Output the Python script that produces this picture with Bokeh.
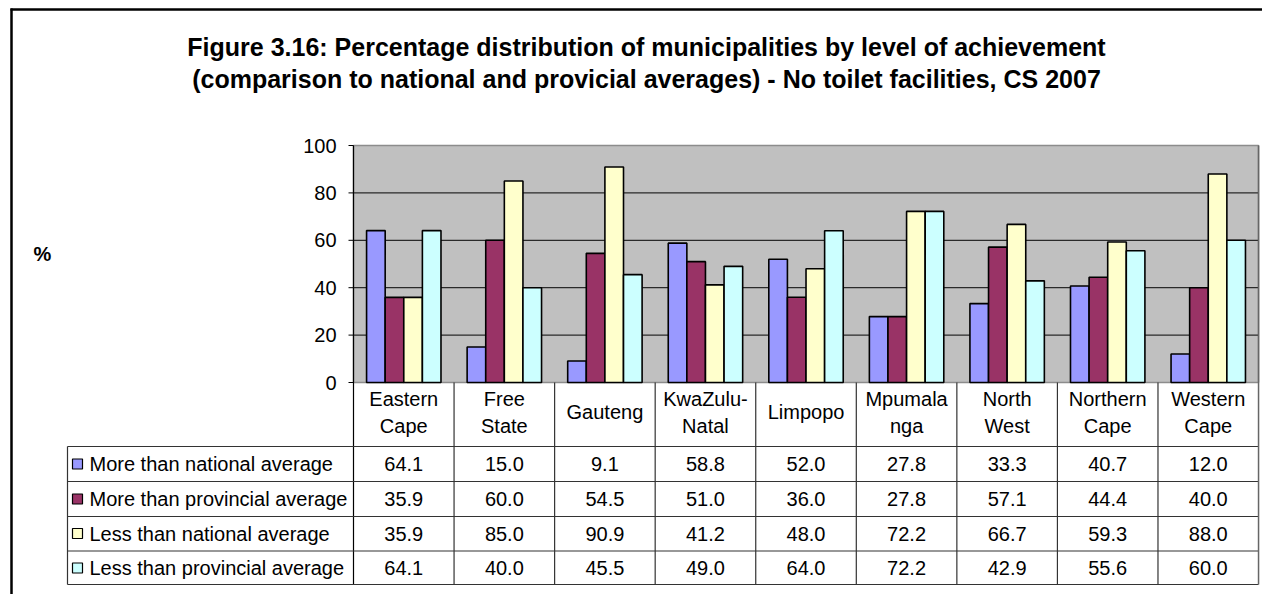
from bokeh.plotting import figure
from bokeh.models import Range1d, ColumnDataSource
from bokeh.core.properties import value
from bokeh.embed import file_html
from bokeh.resources import INLINE

# ---------------- data ----------------
categories = ["Eastern\nCape", "Free\nState", "Gauteng", "KwaZulu-\nNatal", "Limpopo",
              "Mpumala\nnga", "North\nWest", "Northern\nCape", "Western\nCape"]
series_names = ["More than national average", "More than provincial average",
                "Less than national average", "Less than provincial average"]
more_national = [64.1, 15.0, 9.1, 58.8, 52.0, 27.8, 33.3, 40.7, 12.0]
more_provincial = [35.9, 60.0, 54.5, 51.0, 36.0, 27.8, 57.1, 44.4, 40.0]
less_national = [35.9, 85.0, 90.9, 41.2, 48.0, 72.2, 66.7, 59.3, 88.0]
less_provincial = [64.1, 40.0, 45.5, 49.0, 64.0, 72.2, 42.9, 55.6, 60.0]
y_ticks = [0, 20, 40, 60, 80, 100]
title_lines = ["Figure 3.16: Percentage distribution of municipalities by level of achievement",
               "(comparison to national and provicial averages) - No toilet facilities, CS 2007"]
y_label = "%"

series = [more_national, more_provincial, less_national, less_provincial]
colors = ["#9999FF", "#993366", "#FFFFCC", "#CCFFFF"]

# ---------------- layout helpers (canvas pixel -> data coords) ----------------
X0, COLW = 353.0, 100.56
Y0, YPX = 382.0, 2.37
def X(px):
    return (px - X0) / COLW
def Y(py):
    return (Y0 - py) / YPX

FONT = value("Liberation Sans")
W, H = 1262, 594
p = figure(width=W, height=H, output_backend="svg", toolbar_location=None,
           x_range=Range1d(X(0), X(W)), y_range=Range1d(Y(H), Y(0)),
           x_axis_location=None, y_axis_location=None, min_border=0)
p.grid.visible = False
p.outline_line_color = None
p.background_fill_color = "white"
p.border_fill_color = "white"

n = len(categories)

# outer frame (top + left)
p.segment(x0=[X(10), X(11)], y0=[Y(9), Y(8)], x1=[X(W), X(11)], y1=[Y(9), Y(H)],
          line_color="black", line_width=2.5)

# title
p.text(x=[X(646)] * 2, y=[Y(46), Y(78)], text=title_lines, text_font=FONT,
       text_font_size="25px", text_font_style="bold", text_align="center",
       text_baseline="middle", text_color="black")
p.text(x=[X(42)], y=[Y(253)], text=[y_label], text_font=FONT, text_font_size="20px",
       text_font_style="bold", text_align="center", text_baseline="middle")

# plot area
p.quad(left=[0], right=[n], bottom=[0], top=[100], fill_color="#C0C0C0",
       line_color="#8C8C8C", line_width=1.5)
grid = [t for t in y_ticks if 0 < t < 100]
p.segment(x0=[0] * len(grid), y0=grid, x1=[n] * len(grid), y1=grid,
          line_color="#2a2a2a", line_width=1.2)

# y axis
p.segment(x0=[X(348)] * len(y_ticks), y0=y_ticks, x1=[0] * len(y_ticks), y1=y_ticks,
          line_color="black", line_width=1)
p.text(x=[X(336)] * len(y_ticks), y=y_ticks, text=[str(t) for t in y_ticks], text_font=FONT,
       text_font_size="20px", text_align="right", text_baseline="middle")

# bars
bw = 0.185
offsets = [-1.5 * bw, -0.5 * bw, 0.5 * bw, 1.5 * bw]
for s, c, off in zip(series, colors, offsets):
    src = ColumnDataSource(dict(x=[i + 0.5 + off for i in range(n)], top=s))
    p.vbar(x="x", top="top", bottom=0, width=bw, source=src, fill_color=c,
           line_color="black", line_width=1.6)

# axis line / left table edge of category area
p.segment(x0=[0], y0=[100], x1=[0], y1=[Y(584)], line_color="black", line_width=1.2)

# table grid
row_lines = [446, 481, 516, 550.5, 584]
tline = "#333333"
p.segment(x0=[X(67)] * len(row_lines), y0=[Y(r) for r in row_lines],
          x1=[n] * len(row_lines), y1=[Y(r) for r in row_lines], line_color=tline, line_width=1.2)
p.segment(x0=[X(67)], y0=[Y(446)], x1=[X(67)], y1=[Y(584)], line_color=tline, line_width=1.2)
p.segment(x0=list(range(1, n)), y0=[0] * (n - 1), x1=list(range(1, n)), y1=[Y(584)] * (n - 1),
          line_color=tline, line_width=1.2)
p.segment(x0=[n], y0=[100], x1=[n], y1=[Y(584)], line_color="#666666", line_width=1.5)

# category labels
lx, ly, lt = [], [], []
for i, c in enumerate(categories):
    parts = c.split("\n")
    ys = [398, 425] if len(parts) == 2 else [411.5]
    for part, yy in zip(parts, ys):
        lx.append(i + 0.5); ly.append(Y(yy)); lt.append(part)
p.text(x=lx, y=ly, text=lt, text_font=FONT, text_font_size="20px",
       text_align="center", text_baseline="middle")

# table rows
row_centers = [463.5, 498.5, 533, 567.5]
for s, c, name, rc in zip(series, colors, series_names, row_centers):
    p.scatter(x=[X(77)], y=[Y(rc)], marker="square", size=10, fill_color=c,
              line_color="black", line_width=1.2)
    p.text(x=[X(89)], y=[Y(rc)], text=[name], text_font=FONT, text_font_size="20px",
           text_align="left", text_baseline="middle")
    p.text(x=[i + 0.5 for i in range(n)], y=[Y(rc)] * n, text=["%.1f" % v for v in s],
           text_font=FONT, text_font_size="20px", text_align="center", text_baseline="middle")

open("out.html", "w").write(file_html(p, INLINE))
